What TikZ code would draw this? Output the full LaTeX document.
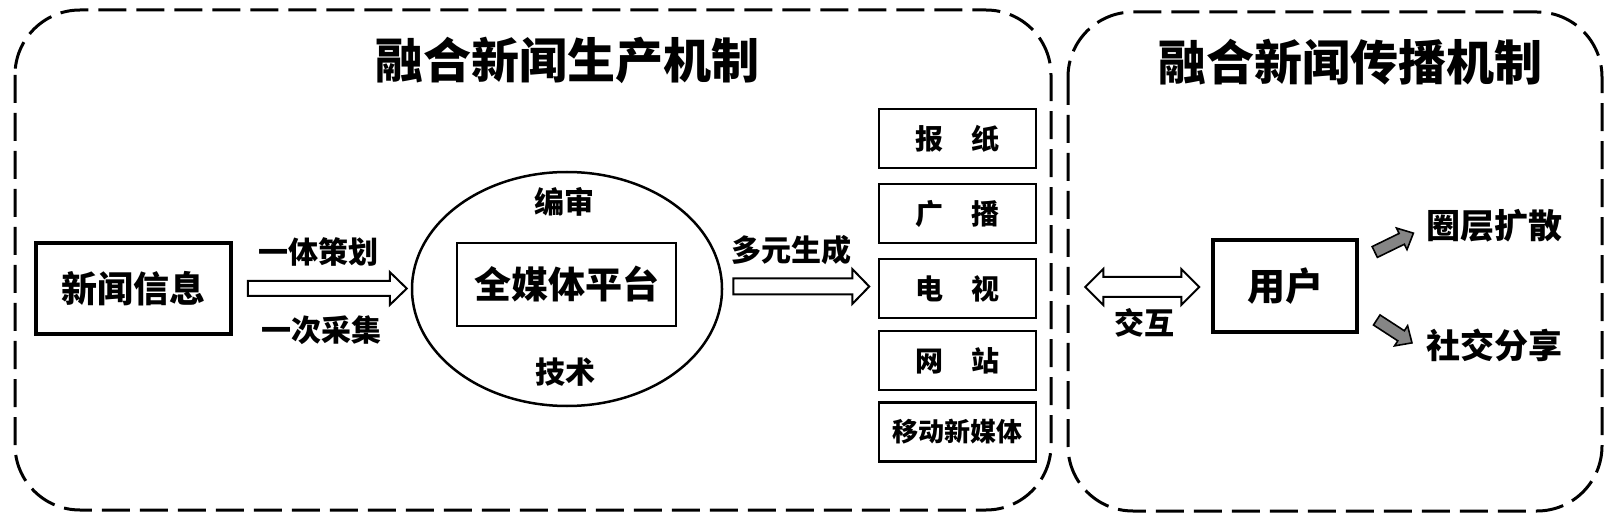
\documentclass[tikz,border=0pt]{standalone}
\usepackage{fontspec}
\setmainfont{Noto Sans CJK SC}
\usetikzlibrary{shapes.geometric,calc}
\definecolor{arrgray}{HTML}{858585}
\newcommand\fs[1]{\fontsize{#1}{#1}\selectfont\bfseries}
% single arrow outline: length, shaft half, head half, head length
\newcommand\harrowpath[4]{(0,#2) -- ({#1-#4},#2) -- ({#1-#4},#3) -- (#1,0) -- ({#1-#4},-#3) -- ({#1-#4},-#2) -- (0,-#2) -- cycle}
% double arrow outline
\newcommand\dblarrowpath[4]{(0,0) -- (#4,#3) -- (#4,#2) -- ({#1-#4},#2) -- ({#1-#4},#3) -- (#1,0) -- ({#1-#4},-#3) -- ({#1-#4},-#2) -- (#4,-#2) -- (#4,-#3) -- cycle}
\begin{document}
\begin{tikzpicture}[x=1pt,y=-1pt,
  frame/.style={draw, line width=3pt, dash pattern=on 28pt off 10pt, rounded corners=65pt},
  box/.style={draw, line width=2.5pt, inner sep=0pt},
  mediabox/.style={box, minimum width=157pt, minimum height=59pt, font=\fs{28}},
  lbl/.style={inner sep=0pt, font=\fs{30}},
  hollow/.style={draw, line width=2pt, fill=white, line join=miter},
  grayarr/.style={draw, line width=1.6pt, fill=arrgray, line join=miter}]
\useasboundingbox (0,0) rectangle (1612,521);
\fill[white] (0,0) rectangle (1612,521);

% frames
\draw[frame] (15,10) rectangle (1051,510);
\draw[frame] (1068,12) rectangle (1602,511);

% titles
\node[lbl, font=\fs{48}] (t1) at (567,60) {融合新闻生产机制};
\node[lbl, font=\fs{48}] (t2) at (1350,62) {融合新闻传播机制};

% production
\node[box, line width=3.5pt, minimum width=195pt, minimum height=91pt, font=\fs{36}] (info) at (133.5,288.5) {新闻信息};
\node[draw, ellipse, line width=2.5pt, minimum width=310pt, minimum height=234pt, inner sep=0pt] (hub) at (567,289) {};
\node[box, line width=2pt, minimum width=219pt, minimum height=83pt, font=\fs{37}] (plat) at (566.5,284.5) {全媒体平台};
\node[lbl] (bs) at (564,202) {编审};
\node[lbl] (js) at (565,372) {技术};

\node[mediabox] (m1) at (957.5,138.5) {报　纸};
\node[mediabox] (m2) at (957.5,213.5) {广　播};
\node[mediabox] (m3) at (957.5,288.5) {电　视};
\node[mediabox] (m4) at (957.5,360.5) {网　站};
\node[mediabox, font=\fs{26}] (m5) at (957.5,432) {移动新媒体};

% user
\node[box, line width=3.5pt, minimum width=144pt, minimum height=92pt, font=\fs{38}] (user) at (1285,286) {用户};

% arrows
\coordinate (a1) at ($(info.east)+(15,0)$);
\draw[hollow, shift={(a1)}] \harrowpath{159}{7.5}{16.5}{17};
\coordinate (a2) at ($(hub.east)+(10,-2.5)$);
\draw[hollow, shift={(a2)}] \harrowpath{136}{8}{17.5}{17};
\coordinate (a3) at ($(user.west)+(-126,1)$);
\draw[hollow, shift={(a3)}] \dblarrowpath{114}{10}{18}{18};

\coordinate (g1) at ($(user.east)+(16,-34)$);
\draw[grayarr, shift={(g1)}, rotate=26] \harrowpath{43}{6}{12}{13};
\coordinate (g2) at ($(user.east)+(18,34)$);
\draw[grayarr, shift={(g2)}, rotate=-33] \harrowpath{42}{6}{12}{13};

% labels
\node[lbl] (l1) at (318,252) {一体策划};
\node[lbl] (l2) at (321,330) {一次采集};
\node[lbl] (l3) at (791,250) {多元生成};
\node[lbl] (l4) at (1144,323) {交互};
\node[lbl, font=\fs{34}] (l5) at (1494,226) {圈层扩散};
\node[lbl, font=\fs{34}] (l6) at (1494,345) {社交分享};
\end{tikzpicture}
\end{document}
